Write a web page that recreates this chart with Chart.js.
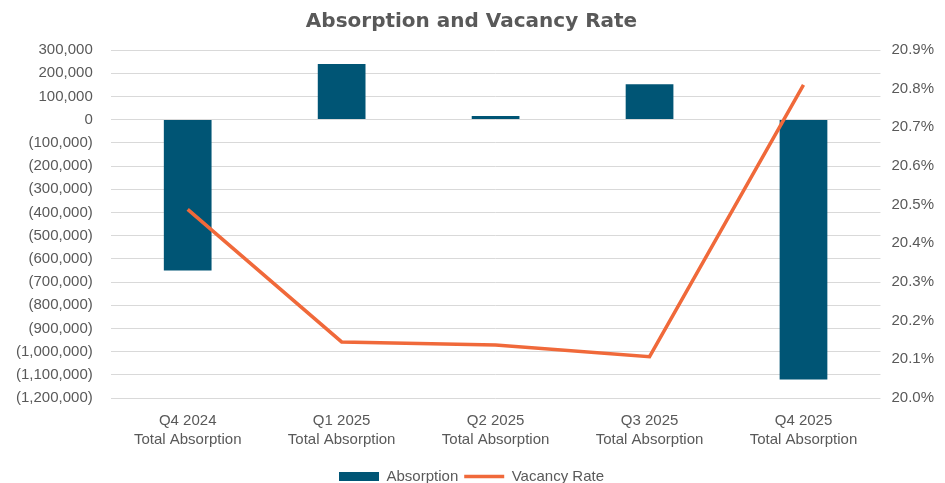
<!DOCTYPE html>
<html>
<head>
<meta charset="utf-8">
<script src="https://cdn.jsdelivr.net/npm/chart.js@4"></script>
<style>
  html, body { margin: 0; padding: 0; background: #fff; }
  #wrap { width: 945px; height: 483px; }
</style>
</head>
<body>
<div id="wrap"><canvas id="grafico"></canvas></div>
<script>
const trimestres = [
  ['Q4 2024', 'Total Absorption'],
  ['Q1 2025', 'Total Absorption'],
  ['Q2 2025', 'Total Absorption'],
  ['Q3 2025', 'Total Absorption'],
  ['Q4 2025', 'Total Absorption']
];
const absorcion = [-650000, 240000, 15000, 152000, -1120000];
const vacancia = [20.488, 20.145, 20.137, 20.107, 20.81];

const gris = '#595959';
const fuenteEje = "'Liberation Sans', Arial, sans-serif";

function formatoMiles(v) {
  const s = Math.abs(v).toLocaleString('en-US');
  return v < 0 ? '(' + s + ')' : s;
}

const ctx = document.getElementById('grafico');
new Chart(ctx, {
  data: {
    labels: trimestres,
    datasets: [
      {
        type: 'line',
        label: 'Vacancy Rate',
        data: vacancia,
        yAxisID: 'y1',
        borderColor: '#f0693a',
        backgroundColor: '#f0693a',
        borderWidth: 3.5,
        pointRadius: 0,
        pointStyle: 'line',
        tension: 0,
        order: 1
      },
      {
        type: 'bar',
        label: 'Absorption',
        data: absorcion,
        yAxisID: 'y',
        backgroundColor: '#005575',
        pointStyle: 'rect',
        barPercentage: 0.62,
        categoryPercentage: 0.5,
        order: 2
      }
    ]
  },
  options: {
    responsive: true,
    maintainAspectRatio: false,
    animation: false,
    layout: { padding: { left: -2, right: 0, top: 0, bottom: -11 } },
    plugins: {
      title: {
        display: true,
        text: 'Absorption and Vacancy Rate',
        color: gris,
        font: { family: "'DejaVu Sans', sans-serif", size: 20, weight: 'bold' },
        padding: { top: 10, bottom: 16 }
      },
      legend: {
        position: 'bottom',
        reverse: true,
        labels: {
          color: gris,
          font: { family: fuenteEje, size: 15 },
          usePointStyle: true,
          pointStyleWidth: 40,
          boxHeight: 9,
          padding: 6
        }
      },
      tooltip: { enabled: false }
    },
    scales: {
      x: {
        grid: { display: false, drawTicks: false },
        border: { display: false },
        ticks: {
          color: gris,
          font: { family: fuenteEje, size: 15, lineHeight: 1.3 },
          maxRotation: 0,
          padding: 13
        }
      },
      y: {
        position: 'left',
        min: -1200000,
        max: 300000,
        grid: { color: '#d9d9d9', drawTicks: false },
        border: { display: false },
        ticks: {
          stepSize: 100000,
          color: gris,
          font: { family: fuenteEje, size: 15 },
          padding: 18,
          callback: v => formatoMiles(v)
        }
      },
      y1: {
        position: 'right',
        min: 20.0,
        max: 20.9,
        grid: { display: false, drawTicks: false },
        border: { display: false },
        ticks: {
          stepSize: 0.1,
          color: gris,
          font: { family: fuenteEje, size: 15 },
          padding: 11,
          callback: v => v.toFixed(1) + '%'
        }
      }
    }
  }
});
</script>
</body>
</html>
